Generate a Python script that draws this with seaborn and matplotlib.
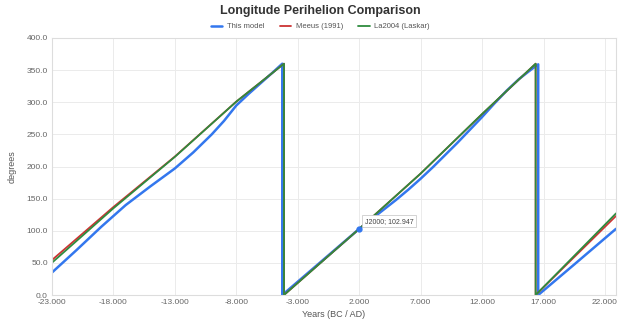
import numpy as np
import pandas as pd
import seaborn as sns
import matplotlib.pyplot as plt
from matplotlib.ticker import FuncFormatter, MultipleLocator, FixedLocator

# --- data ---
model_years = [-23000, -21000, -19000, -17000, -15000, -13000, -11500, -10000, -9000, -8000,
               -7000, -6000, -5000, -4260, -4260,
               -1000, 2000, 3000, 4000, 5000, 6000, 7000, 8000, 9000, 10000, 11000,
               12000, 13000, 14000, 15000, 16000, 16570, 16570, 19500, 22900]
model_vals = [35, 70, 106, 140, 169, 197, 222, 250, 271, 295,
              313, 330, 347, 360, 0,
              53.6, 102.947, 118, 133, 148, 164, 181, 199, 218, 237, 257,
              277, 298, 318, 336, 351, 359, 0, 47.5, 103]

meeus_years = [-23000, -18000, -13000, -8000, -4120, -4120, 2000, 7000, 12000, 16360, 16360, 22900]
meeus_vals = [54.5, 137, 215.5, 301, 360, 0, 102.9, 189, 281.5, 360, 0, 123]

laskar_years = [-23000, -18000, -13000, -8000, -4120, -4120, 2000, 7000, 12000, 16360, 16360, 22900]
laskar_vals = [50.3, 135, 215, 301, 360, 0, 102.947, 189, 281.7, 360, 0, 127]

series_names = ["This model", "Meeus (1991)", "La2004 (Laskar)"]
colors = ["#3377ee", "#cc3333", "#2e8b3e"]
widths = [1.8, 1.3, 1.3]

j2000_year = 2000
j2000_val = 102.947

frames = []
for name, yrs, vals in zip(series_names, [model_years, meeus_years, laskar_years],
                           [model_vals, meeus_vals, laskar_vals]):
    frames.append(pd.DataFrame({"year": yrs, "deg": vals, "series": name}))
df = pd.concat(frames, ignore_index=True)

sns.set_theme(style="whitegrid")
plt.rcParams['font.family'] = ['Liberation Sans', 'DejaVu Sans']

fig = plt.figure(figsize=(6.41, 3.24), dpi=100)
ax = fig.add_axes([52 / 641, 1 - 295 / 324, (616 - 52) / 641, (295 - 38) / 324])

for name, c, lw in zip(series_names, colors, widths):
    sns.lineplot(data=df[df["series"] == name], x="year", y="deg", sort=False,
                 estimator=None, color=c, linewidth=lw, label=name, ax=ax)

ax.plot(j2000_year, j2000_val, "o", color="#3377ee", markersize=3.5, zorder=5)
ax.annotate(f"J2000; {j2000_val}", xy=(j2000_year, j2000_val), xytext=(4, 3),
            textcoords="offset points", fontsize=5, color="#444444", ha="left", va="bottom",
            bbox=dict(boxstyle="square,pad=0.35", fc="white", ec="#cccccc", lw=0.6))

ax.set_xlim(-23000, 22900)
ax.set_ylim(0, 400)
ax.xaxis.set_major_locator(FixedLocator(np.arange(-23000, 22001, 5000)))
ax.yaxis.set_major_locator(MultipleLocator(50))
ax.xaxis.set_major_formatter(FuncFormatter(lambda v, p: f"{v:,.0f}".replace(",", ".")))
ax.yaxis.set_major_formatter(FuncFormatter(lambda v, p: f"{v:.1f}"))
ax.tick_params(labelsize=6, colors="#666666", length=0, pad=3)
ax.grid(color="#ebebeb", linewidth=0.7)
for s in ax.spines.values():
    s.set_color("#dddddd")
    s.set_linewidth(0.8)

ax.set_xlabel("Years (BC / AD)", fontsize=6.5, color="#555555", labelpad=3)
ax.set_ylabel("degrees", fontsize=6.5, color="#555555", labelpad=7)
ax.legend_.remove()

fig.suptitle("Longitude Perihelion Comparison", fontsize=9, fontweight="bold",
             color="#333333", y=0.985)
handles, labels = ax.get_legend_handles_labels()
fig.legend(handles, labels, loc="center", bbox_to_anchor=(0.5, 0.918), ncol=3,
           frameon=False, fontsize=5.5, handlelength=1.5, columnspacing=2.0,
           handletextpad=0.6, labelcolor="#555555")

fig.savefig("out.png", dpi=100)
